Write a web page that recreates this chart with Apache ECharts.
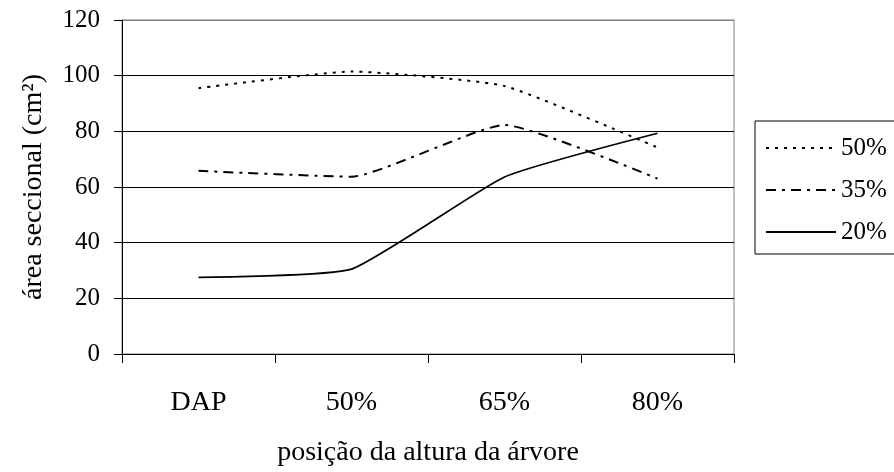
<!DOCTYPE html>
<html>
<head>
<meta charset="utf-8">
<script src="https://cdn.jsdelivr.net/npm/echarts@6/dist/echarts.min.js"></script>
<style>
html,body{margin:0;padding:0;background:#fff;}
#chart{width:894px;height:472px;}
</style>
</head>
<body>
<div id="chart"></div>
<script>
const categories = ['DAP', '50%', '65%', '80%'];
const seriesNames = ['50%', '35%', '20%'];
const values50 = [95.5, 101.5, 96.3, 74.2];
const values35 = [65.8, 63.7, 82.3, 63.0];
const values20 = [27.5, 30.5, 63.6, 79.3];
const yTicks = [0, 20, 40, 60, 80, 100, 120];

const FONT = "'Liberation Serif', 'Times New Roman', serif";
const chart = echarts.init(document.getElementById('chart'), null, {renderer: 'canvas'});

chart.setOption({
  animation: false,
  backgroundColor: '#ffffff',
  textStyle: {fontFamily: FONT, color: '#000'},
  grid: {
    left: 122, right: 160, top: 20, bottom: 116,
    show: true, borderColor: '#808080', borderWidth: 1, backgroundColor: 'transparent'
  },
  legend: {
    show: true,
    type: 'plain',
    left: 755, top: 121,
    orient: 'vertical',
    data: seriesNames,
    itemWidth: 70, itemHeight: 14, itemGap: 14,
    padding: [13, 60, 8, 10],
    borderColor: '#000', borderWidth: 1,
    itemStyle: {opacity: 0},
    textStyle: {fontFamily: FONT, fontSize: 25, color: '#000', lineHeight: 28}
  },
  xAxis: {
    type: 'category',
    data: categories,
    boundaryGap: true,
    axisLine: {show: true, lineStyle: {color: '#000', width: 1}},
    axisTick: {show: true, length: 9, lineStyle: {color: '#000'}},
    axisLabel: {fontFamily: FONT, fontSize: 28, color: '#000', margin: 35},
    splitLine: {show: false},
    name: 'posição da altura da árvore',
    nameLocation: 'middle',
    nameGap: 85,
    nameTextStyle: {fontFamily: FONT, fontSize: 28, color: '#000'}
  },
  yAxis: {
    type: 'value',
    min: yTicks[0], max: yTicks[yTicks.length - 1], interval: 20,
    axisLine: {show: true, lineStyle: {color: '#000', width: 1}},
    axisTick: {show: true, inside: false, length: 8, lineStyle: {color: '#000'}},
    axisLabel: {fontFamily: FONT, fontSize: 25, color: '#000', margin: 22},
    splitLine: {show: true, lineStyle: {color: ['#000', '#000', '#000', '#000', '#000', '#000', '#808080'], width: 1}},
    name: 'área seccional (cm²)',
    nameLocation: 'middle',
    nameGap: 74,
    nameRotate: 90,
    nameTextStyle: {fontFamily: FONT, fontSize: 28, color: '#000'}
  },
  series: [
    {
      name: seriesNames[0], type: 'line', data: values50, smooth: 0.15,
      symbol: 'none',
      lineStyle: {color: '#000', width: 2, type: [3, 6]},
      itemStyle: {color: '#000'}
    },
    {
      name: seriesNames[1], type: 'line', data: values35, smooth: 0.15,
      symbol: 'none',
      lineStyle: {color: '#000', width: 2, type: [10, 6, 3, 6]},
      itemStyle: {color: '#000'}
    },
    {
      name: seriesNames[2], type: 'line', data: values20, smooth: 0.15,
      symbol: 'none',
      lineStyle: {color: '#000', width: 1.7, type: 'solid'},
      itemStyle: {color: '#000'}
    }
  ]
});
</script>
</body>
</html>
